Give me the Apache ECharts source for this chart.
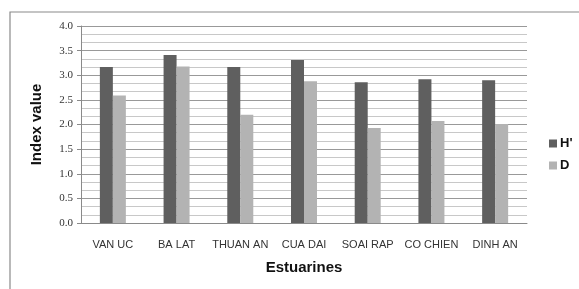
<!DOCTYPE html>
<html>
<head>
<meta charset="utf-8">
<script src="https://cdn.jsdelivr.net/npm/echarts@6/dist/echarts.min.js"></script>
<style>
  html, body { margin: 0; padding: 0; background: #fff; }
  #chart { width: 579px; height: 289px; }
</style>
</head>
<body>
<div id="chart"></div>
<script>
var categories = ['VAN UC', 'BA LAT', 'THUAN AN', 'CUA DAI', 'SOAI RAP', 'CO CHIEN', 'DINH AN']
var hValues = [3.17, 3.41, 3.17, 3.31, 2.86, 2.92, 2.90]
var dValues = [2.59, 3.18, 2.20, 2.88, 1.93, 2.07, 2.01]
var seriesNames = ["H'", 'D']

var chart = echarts.init(document.getElementById('chart'))
var option = {
  animation: false,
  color: ['#5f5f5f', '#b3b3b3'],
  graphic: [{
    type: 'rect',
    shape: { x: 10, y: 12, width: 600, height: 300 },
    style: { fill: 'none', stroke: '#8a8a8a', lineWidth: 1.2 }
  }],
  grid: { left: 81, right: 52, top: 26, bottom: 66 },
  legend: {
    orient: 'vertical',
    left: 544,
    top: 132,
    itemWidth: 8,
    itemHeight: 8,
    itemGap: 9,
    icon: 'rect',
    textStyle: { fontFamily: 'Liberation Sans', fontSize: 13, fontWeight: 'bold', color: '#111', padding: [0, 0, 0, -2] },
    data: seriesNames
  },
  xAxis: {
    type: 'category',
    data: categories,
    name: 'Estuarines',
    nameLocation: 'middle',
    nameGap: 37,
    nameTextStyle: { fontFamily: 'Liberation Sans', fontSize: 15, fontWeight: 'bold', color: '#111' },
    axisLine: { lineStyle: { color: '#8a8a8a' } },
    axisTick: { show: false },
    axisLabel: { fontFamily: 'Liberation Sans', fontSize: 11, color: '#333', margin: 16, interval: 0 }
  },
  yAxis: {
    type: 'value',
    min: 0,
    max: 4,
    interval: 0.5,
    name: 'Index value',
    nameLocation: 'middle',
    nameGap: 37,
    nameTextStyle: { fontFamily: 'Liberation Sans', fontSize: 15, fontWeight: 'bold', color: '#111' },
    axisLine: { show: true, lineStyle: { color: '#8a8a8a' } },
    axisTick: { show: true, length: 4, lineStyle: { color: '#8a8a8a' } },
    axisLabel: {
      fontFamily: 'Liberation Serif', fontSize: 11, color: '#333', margin: 8,
      formatter: function(v) { return v.toFixed(1) }
    },
    splitLine: { lineStyle: { color: '#999', width: 1 } },
    minorTick: { show: false, splitNumber: 3 },
    minorSplitLine: { show: true, lineStyle: { color: '#c8c8c8', width: 1 } }
  },
  series: [
    {
      name: seriesNames[0],
      type: 'bar',
      data: hValues,
      barWidth: 13,
      barGap: '0%'
    },
    {
      name: seriesNames[1],
      type: 'bar',
      data: dValues,
      barWidth: 13,
      barGap: '0%'
    }
  ]
}
chart.setOption(option)
</script>
</body>
</html>
